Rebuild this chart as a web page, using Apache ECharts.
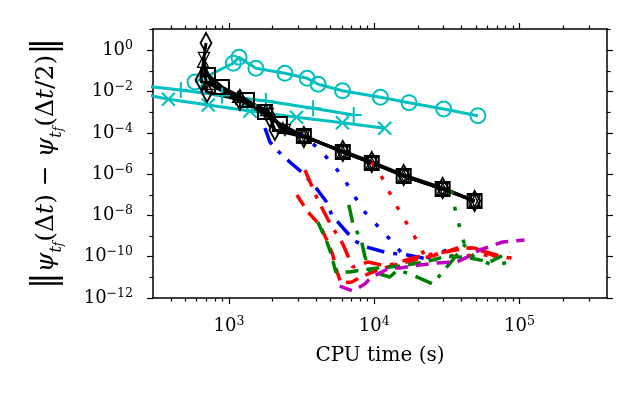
<!DOCTYPE html>
<html>
<head>
<meta charset="utf-8">
<script src="https://cdn.jsdelivr.net/npm/echarts@6/dist/echarts.min.js"></script>
<style>
html, body { margin: 0; padding: 0; background: #fff; }
#container { width: 638px; height: 394px; }
</style>
</head>
<body>
<div id="container"></div>
<script>
// axis limits (data units)
var X_MIN = 300, X_MAX = 4e5;
var Y_MIN = 1e-12, Y_MAX = 10.7;

// tick positions (decade exponents)
var xMajorExp = [3, 4, 5];
var xMinorVal = [400, 500, 600, 700, 800, 900, 2000, 3000, 4000, 5000, 6000, 7000, 8000, 9000,
                 2e4, 3e4, 4e4, 5e4, 6e4, 7e4, 8e4, 9e4, 2e5, 3e5];
var yMajorExp = [-12, -10, -8, -6, -4, -2, 0];
var yMinorExp = [-11, -9, -7, -5, -3, -1, 1];

// cyan reference curves
var cyanCircleX = [584, 1071, 1172, 1533, 2427, 3452, 4110, 6045, 11030, 17350, 30040, 51700];
var cyanCircleY = [0.029, 0.234, 0.458, 0.134, 0.0769, 0.044, 0.0225, 0.011, 0.00528, 0.00289, 0.00143, 0.000678];
var cyanPlusX = [209, 466, 895, 1795, 3795, 7225];
var cyanPlusY = [0.022, 0.0119, 0.00646, 0.0035, 0.00155, 0.000733];
var cyanCrossX = [209, 383, 721, 1394, 2918, 6040, 11800];
var cyanCrossY = [0.00986, 0.00423, 0.00224, 0.00115, 0.000567, 0.00031, 0.000166];

// black curves
var blackSquareX = [717, 895, 1330, 1768, 2241, 3278, 6075, 9612, 15950, 29570, 49060];
var blackSquareY = [0.0636, 0.01667, 0.00391, 0.001025, 2.69e-4, 7.05e-5, 1.18e-5, 3.47e-6, 8.13e-7, 1.91e-7, 5.0e-8];
var blackDiamondX = [695, 642, 706, 1190, 1913, 2071, 3278, 6075, 9612, 15950, 29570, 49060];
var blackDiamondY = [2.26, 0.0364, 0.00954, 0.00391, 5.87e-4, 1.38e-4, 6.3e-5, 1.32e-5, 3.87e-6, 9.08e-7, 2.13e-7, 5.0e-8];
var blackTriUpX = [663, 764, 1153, 1796, 2350, 3278, 6075, 9612, 15950, 29570, 49060];
var blackTriUpY = [0.271, 0.0233, 0.00546, 0.00128, 1.72e-4, 7.05e-5, 1.18e-5, 3.47e-6, 8.13e-7, 1.91e-7, 5.0e-8];
var blackTriDownX = [673, 695, 1117, 1854, 2426, 3278, 6075, 9612, 15950, 29570, 49060];
var blackTriDownY = [0.424, 0.0291, 0.00437, 8.2e-4, 1.38e-4, 7.05e-5, 1.18e-5, 3.47e-6, 8.13e-7, 1.91e-7, 5.0e-8];

// coloured curves
var blueDashDotX = [1768, 1913, 2207, 2668, 3226, 4024, 4643, 5105, 6271, 7345, 8882, 12380, 15450, 21550, 27330];
var blueDashDotY = [1.72e-4, 3.61e-5, 1.18e-5, 3.47e-6, 1.14e-6, 1.91e-7, 5.0e-8, 1.05e-8, 1.97e-9, 5.77e-10, 2.95e-10, 1.51e-10, 1.35e-10, 8.65e-11, 6.92e-11];
var blueDotX = [3075, 4024, 5023, 6075, 7115, 8337, 10240, 12580, 15450, 18980, 24070, 31500];
var blueDotY = [9.85e-5, 2.07e-5, 3.87e-6, 7.27e-7, 1.22e-7, 1.83e-8, 3.84e-9, 8.05e-10, 1.51e-10, 5.53e-11, 9.66e-11, 2.11e-10];
var redDashDotX = [3331, 4090, 4945, 6075, 7115, 9024, 12190, 14970, 18390, 27330, 45330, 62210, 82710];
var redDashDotY = [1.59e-6, 5.59e-8, 4.29e-9, 4.12e-10, 3.17e-11, 5.53e-11, 3.54e-11, 5.53e-11, 8.65e-11, 1.51e-10, 2.64e-10, 1.51e-10, 8.65e-11];
var redDashX = [2934, 3491, 4221, 4716, 5184, 5438, 5886, 7004, 8337, 10570, 13830, 18980, 28200, 37490, 49060, 67320, 88120];
var redDashY = [9.75e-8, 1.47e-8, 3.43e-9, 6.44e-10, 1.21e-10, 2.83e-11, 5.32e-12, 5.94e-12, 1.16e-11, 2.28e-11, 4.0e-11, 6.92e-11, 1.35e-10, 2.64e-10, 2.64e-10, 1.08e-10, 8.65e-11];
var redDotX = [9612, 10913, 12580, 14510, 16990, 19910, 22590, 28200, 37490, 53150, 72950];
var redDotY = [3.87e-6, 1.14e-6, 1.52e-7, 2.29e-8, 3.43e-9, 5.15e-10, 8.65e-11, 1.51e-10, 9.66e-11, 1.35e-10, 8.65e-11];
var greenDashX = [4090, 4716, 5023, 5438, 6786, 8206, 10570, 14970, 22250, 32010, 45330, 62210, 85380];
var greenDashY = [4.8e-9, 5.15e-10, 1.51e-10, 1.82e-11, 1.82e-11, 2.28e-11, 2.83e-11, 3.54e-11, 5.53e-11, 1.08e-10, 8.65e-11, 5.53e-11, 1.69e-10];
var greenDashDotX = [6680, 7115, 8206, 8603, 9314, 12780, 14510, 18390, 25240, 29570, 34640, 42560];
var greenDashDotY = [3.2e-8, 4.29e-9, 5.15e-10, 1.08e-10, 2.03e-11, 1.04e-11, 2.28e-11, 1.3e-11, 4.76e-12, 1.82e-11, 6.92e-11, 4.12e-10];
var greenDotX = [34100, 35750, 38700, 41880, 49060, 65230, 88120];
var greenDotY = [1.71e-7, 2.56e-8, 2.75e-9, 3.69e-10, 8.65e-11, 4.0e-11, 5.53e-11];
var magentaDashX = [5794, 7115, 8603, 9612, 12780, 14970, 20550, 26890, 36910, 45330, 53150, 76410, 108200];
var magentaDashY = [3.8e-12, 2.18e-12, 4.76e-12, 1.04e-11, 2.83e-11, 2.83e-11, 4.0e-11, 4.95e-11, 5.53e-11, 1.08e-10, 2.11e-10, 5.15e-10, 6.44e-10];

var FONT = 'DejaVu Serif';
var CYAN = '#00bfbf', BLUE = '#0000ff', RED = '#ff0000', GREEN = '#008000', MAGENTA = '#bf00bf';
var DASH = [13, 8], DASHDOT = [18, 9, 4, 9], DOT = [4, 13];

function pairs(xs, ys) {
    return xs.map(function (x, i) { return [x, ys[i]]; });
}

function plainLine(xs, ys, color, dash) {
    return {
        type: 'line', xAxisIndex: 0, yAxisIndex: 0,
        data: pairs(xs, ys), symbol: 'none',
        lineStyle: { color: color, width: 3.5, type: dash }
    };
}

function markedLine(xs, ys, color, symbol, size, extra) {
    var s = {
        type: 'line', xAxisIndex: 0, yAxisIndex: 0,
        data: pairs(xs, ys), symbol: symbol, symbolSize: size, showSymbol: true,
        lineStyle: { color: color, width: 3 },
        itemStyle: { color: 'rgba(0,0,0,0)', borderColor: color, borderWidth: 2 }
    };
    for (var k in extra) s[k] = extra[k];
    return s;
}

function powLabel(v) {
    var n = Math.round(v);
    var s = n < 0 ? '\u2212' + (-n) : '' + n;
    return '{b|10}{s|' + s + '}';
}

var labelRich = {
    b: { fontFamily: FONT, fontSize: 18, lineHeight: 22, color: '#000' },
    s: { fontFamily: FONT, fontSize: 12.5, lineHeight: 12, verticalAlign: 'top', color: '#000' }
};

function log10s(arr) { return arr.map(function (v) { return Math.log10(v); }); }

// visible tick axes live in log10 space on top of the hidden log axes
function tickAxis(dim, position, majorVals, minorVals, major, showLabels) {
    var lo = dim === 'x' ? Math.log10(X_MIN) : Math.log10(Y_MIN);
    var hi = dim === 'x' ? Math.log10(X_MAX) : Math.log10(Y_MAX);
    return {
        type: 'value', min: lo, max: hi, position: position,
        axisLine: { show: major, onZero: false, lineStyle: { color: '#000', width: 1.5 } },
        axisTick: { show: true, customValues: major ? majorVals : minorVals, length: major ? 6 : 3.5,
                    lineStyle: { color: '#000', width: 1.2 } },
        axisLabel: { show: !!showLabels, customValues: majorVals, formatter: powLabel,
                     margin: dim === 'x' ? 17 : 20, rich: labelRich },
        splitLine: { show: false }
    };
}

var bottomMajor = tickAxis('x', 'bottom', xMajorExp, null, true, true);
bottomMajor.name = 'CPU time (s)';
bottomMajor.nameLocation = 'middle';
bottomMajor.nameGap = 48;
bottomMajor.nameTextStyle = { fontFamily: FONT, fontSize: 20, color: '#000' };

var leftMajor = tickAxis('y', 'left', yMajorExp, null, true, true);
leftMajor.name = '{bar|\u2016}{i|\u03c8}{s|t}{ss|f}{n|(\u0394}{i|t}{n|) \u2212 }{i|\u03c8}{s|t}{ss|f}{n|(\u0394}{i|t}{n|/2)}{bar|\u2016}';
leftMajor.nameLocation = 'middle';
leftMajor.nameGap = 88;
leftMajor.nameTextStyle = {
    rich: {
        bar: { fontFamily: FONT, fontSize: 34, lineHeight: 38, color: '#000' },
        n: { fontFamily: FONT, fontSize: 25, lineHeight: 38, color: '#000' },
        i: { fontFamily: FONT, fontSize: 25, fontStyle: 'italic', lineHeight: 38, color: '#000' },
        s: { fontFamily: FONT, fontSize: 16, fontStyle: 'italic', lineHeight: 22, verticalAlign: 'bottom', color: '#000' },
        ss: { fontFamily: FONT, fontSize: 12, fontStyle: 'italic', lineHeight: 12, verticalAlign: 'bottom', color: '#000' }
    }
};

var option = {
    animation: false,
    backgroundColor: '#fff',
    grid: { left: 153, right: 31, top: 29, bottom: 96, outerBoundsMode: 'none' },
    xAxis: [
        { type: 'log', logBase: 10, min: X_MIN, max: X_MAX, show: false },
        bottomMajor,
        tickAxis('x', 'bottom', null, log10s(xMinorVal), false, false),
        tickAxis('x', 'top', xMajorExp, null, true, false),
        tickAxis('x', 'top', null, log10s(xMinorVal), false, false)
    ],
    yAxis: [
        { type: 'log', logBase: 10, min: Y_MIN, max: Y_MAX, show: false },
        leftMajor,
        tickAxis('y', 'left', null, yMinorExp, false, false),
        tickAxis('y', 'right', yMajorExp, null, true, false),
        tickAxis('y', 'right', null, yMinorExp, false, false)
    ],
    series: [
        markedLine(cyanCircleX, cyanCircleY, CYAN, 'circle', 15),
        markedLine(cyanPlusX, cyanPlusY, CYAN, 'path://M0,5L10,5M5,0L5,10', 16, {}),
        markedLine(cyanCrossX, cyanCrossY, CYAN, 'path://M0,0L10,10M10,0L0,10', 13, {}),
        markedLine(blackDiamondX, blackDiamondY, '#000', 'diamond', [11, 20]),
        markedLine(blackSquareX, blackSquareY, '#000', 'rect', 14),
        markedLine(blackTriUpX, blackTriUpY, '#000', 'triangle', 11, { itemStyle: { color: 'rgba(0,0,0,0)', borderColor: '#000', borderWidth: 1.3 } }),
        markedLine(blackTriDownX, blackTriDownY, '#000', 'triangle', 11, { symbolRotate: 180, itemStyle: { color: 'rgba(0,0,0,0)', borderColor: '#000', borderWidth: 1.3 } }),
        plainLine(blueDashDotX, blueDashDotY, BLUE, DASHDOT),
        plainLine(blueDotX, blueDotY, BLUE, DOT),
        plainLine(redDashDotX, redDashDotY, RED, DASHDOT),
        plainLine(redDashX, redDashY, RED, DASH),
        plainLine(redDotX, redDotY, RED, DOT),
        plainLine(greenDashX, greenDashY, GREEN, DASH),
        plainLine(greenDashDotX, greenDashDotY, GREEN, DASHDOT),
        plainLine(greenDotX, greenDotY, GREEN, DOT),
        plainLine(magentaDashX, magentaDashY, MAGENTA, DASH)
    ]
};

var myChart = echarts.init(document.getElementById('container'));
myChart.setOption(option);
</script>
</body>
</html>
